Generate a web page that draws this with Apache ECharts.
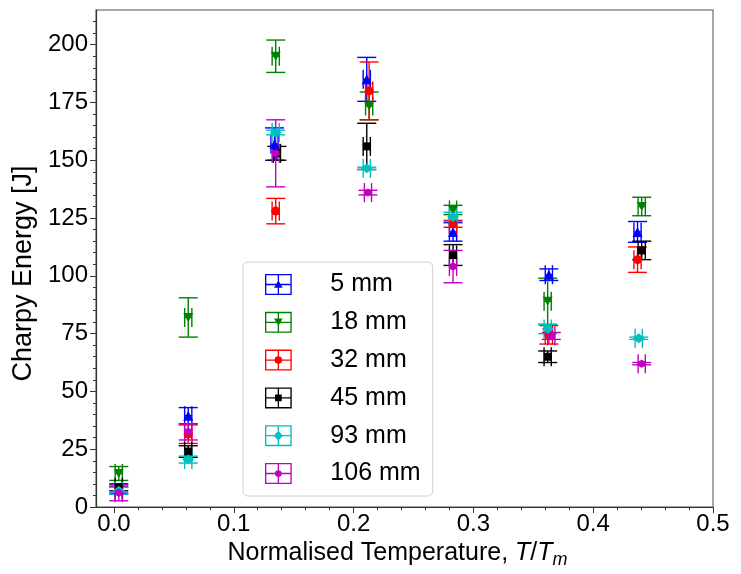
<!DOCTYPE html>
<html>
<head>
<meta charset="utf-8">
<script src="https://cdn.jsdelivr.net/npm/echarts@6/dist/echarts.min.js"></script>
<style>html,body{margin:0;padding:0;background:#fff;}#c{width:741px;height:574px;}</style>
</head>
<body>
<div id="c"></div>
<script>
// ---- data ----
const seriesNames = ['5 mm', '18 mm', '32 mm', '45 mm', '93 mm', '106 mm'];
const seriesColors = ['#0000ff', '#008000', '#ff0000', '#000000', '#00bfbf', '#bf00bf'];
const xTickValues = [0, 0.1, 0.2, 0.3, 0.4, 0.5];
const xMinorTicks = [0.02,0.04,0.06,0.08,0.12,0.14,0.16,0.18,0.22,0.24,0.26,0.28,0.32,0.34,0.36,0.38,0.42,0.44,0.46,0.48];
const yTickValues = [0, 25, 50, 75, 100, 125, 150, 175, 200];
const yMinorTicks = [5,10,15,20,30,35,40,45,55,60,65,70,80,85,90,95,105,110,115,120,130,135,140,145,155,160,165,170,180,185,190,195,205,210];

const temp5   = [0.004, 0.062, 0.134, 0.211, 0.283, 0.363, 0.437];
const energy5 = [7.5, 39.5, 157, 185, 119, 100.5, 119];
const err5    = [1.5, 3.5, 7, 9.5, 4, 2.5, 4.5];

const temp18   = [0.004, 0.062, 0.135, 0.213, 0.283, 0.362, 0.4405];
const energy18 = [14.5, 82, 195, 173.5, 128.5, 89, 130];
const err18    = [3, 8.5, 7, 6, 2, 10, 4];

const temp32   = [0.004, 0.062, 0.135, 0.213, 0.283, 0.363, 0.437];
const energy32 = [7, 31.5, 128, 180, 122.5, 74.5, 107];
const err32    = [1.5, 4, 5.5, 12.5, 1.5, 4, 5.5];

const temp45   = [0.004, 0.062, 0.136, 0.211, 0.283, 0.362, 0.4405];
const energy45 = [8.5, 24, 153, 156, 109, 65, 111];
const err45    = [1.5, 2.5, 3, 10, 4.5, 2.5, 4];

const temp93   = [0.004, 0.062, 0.135, 0.211, 0.283, 0.362, 0.438];
const energy93 = [7, 20.5, 162, 146.5, 125.5, 77, 73];
const err93    = [1.5, 1.5, 1, 0.5, 2, 2, 0.5];

const temp106   = [0.004, 0.062, 0.135, 0.212, 0.283, 0.365, 0.4405];
const energy106 = [6.2, 32.5, 153, 136, 104, 74, 62];
const err106    = [3.5, 3.5, 14.5, 1, 7, 1.5, 0.5];

const tempErr = [0.003, 0.003, 0.003, 0.003, 0.003, 0.003, 0.003];

const allTemps = [temp5, temp18, temp32, temp45, temp93, temp106];
const allEnergy = [energy5, energy18, energy32, energy45, energy93, energy106];
const allErr = [err5, err18, err32, err45, err93, err106];

// ---- styles ----
const FONT = 'Liberation Sans, Arial, sans-serif';
const triDown = 'path://M0,0 L10,0 L5,9 Z';
const hexagon = 'path://M5,0 L9.33,2.5 L9.33,7.5 L5,10 L0.67,7.5 L0.67,2.5 Z';
const symbols = ['triangle', triDown, 'circle', 'rect', 'diamond', hexagon];
const symbolSizes = [[10, 10], [10, 9], 9, 8, [12, 10], 8];

// legend icon: box-like errorbar cross + marker, 28x22 box
const frame = 'M0,0 L28,0 L28,1.4 L0,1.4 Z M0,20.6 L28,20.6 L28,22 L0,22 Z M0,0 L1.4,0 L1.4,22 L0,22 Z M26.6,0 L28,0 L28,22 L26.6,22 Z M13.3,0 L14.7,0 L14.7,22 L13.3,22 Z M0,10.3 L28,10.3 L28,11.7 L0,11.7 Z ';
const markerPaths = [
  'M14,6.5 L18.5,14.5 L9.5,14.5 Z',
  'M9.5,7 L18.5,7 L14,15 Z',
  'M14,7 A4,4 0 1 1 13.99,7 Z',
  'M10.5,7.5 L17.5,7.5 L17.5,14.5 L10.5,14.5 Z',
  'M14,6 L19,11 L14,16 L9,11 Z',
  'M14,7.5 A3.5,3.5 0 1 1 13.99,7.5 Z'
];

function errRender(params, api) {
  const x = api.value(0), y = api.value(1), ye = api.value(2), xe = api.value(3);
  const top = api.coord([x, y + ye]);
  const bot = api.coord([x, y - ye]);
  const l = api.coord([x - xe, y]);
  const r = api.coord([x + xe, y]);
  const cap = 9.5;
  const st = { stroke: api.visual('color'), lineWidth: 1.4 };
  return {
    type: 'group',
    children: [
      { type: 'line', shape: { x1: top[0], y1: top[1], x2: bot[0], y2: bot[1] }, style: st },
      { type: 'line', shape: { x1: top[0] - cap, y1: top[1], x2: top[0] + cap, y2: top[1] }, style: st },
      { type: 'line', shape: { x1: bot[0] - cap, y1: bot[1], x2: bot[0] + cap, y2: bot[1] }, style: st },
      { type: 'line', shape: { x1: l[0], y1: l[1], x2: r[0], y2: r[1] }, style: st },
      { type: 'line', shape: { x1: l[0], y1: l[1] - cap, x2: l[0], y2: l[1] + cap }, style: st },
      { type: 'line', shape: { x1: r[0], y1: r[1] - cap, x2: r[0], y2: r[1] + cap }, style: st }
    ]
  };
}

const series = [];
seriesNames.forEach((name, i) => {
  const errData = allTemps[i].map((t, k) => [t, allEnergy[i][k], allErr[i][k], tempErr[k]]);
  const ptData = allTemps[i].map((t, k) => [t, allEnergy[i][k]]);
  series.push({
    type: 'custom', name: name + ' err', xAxisIndex: 0, yAxisIndex: 0,
    renderItem: errRender, data: errData, itemStyle: { color: seriesColors[i] },
    encode: { x: 0, y: 1 }, silent: true, clip: false
  });
  series.push({
    type: 'scatter', name: name, xAxisIndex: 0, yAxisIndex: 0,
    data: ptData, symbol: symbols[i], symbolSize: symbolSizes[i],
    itemStyle: { color: seriesColors[i], opacity: 1 }, silent: true
  });
});

const chart = echarts.init(document.getElementById('c'), null, { renderer: 'canvas' });
const axisFont = { fontFamily: FONT, fontSize: 24, color: '#000' };
chart.setOption({
  animation: false,
  backgroundColor: '#fff',
  grid: { left: 96, right: 28, top: 10, bottom: 67, show: true, borderColor: '#8a8a8a', borderWidth: 1.5 },
  legend: {
    data: seriesNames.map((n, i) => ({ name: n, icon: 'path://' + frame + markerPaths[i] })),
    orient: 'vertical', left: 243, top: 262,
    itemWidth: 28, itemHeight: 21, itemGap: 12.8,
    padding: [10, 12, 10, 22],
    backgroundColor: '#fff', borderColor: '#d0d0d0', borderWidth: 1, borderRadius: 5,
    textStyle: { fontFamily: FONT, fontSize: 25, color: '#000', padding: [0, 0, 0, 33] },
    selectedMode: false
  },
  xAxis: [
    {
      type: 'value', min: -0.015, max: 0.5, position: 'bottom',
      axisLine: { show: true, onZero: false, lineStyle: { color: '#333', width: 1.2 } },
      axisTick: { show: true, customValues: xTickValues, length: 6, inside: false, lineStyle: { color: '#333' } },
      axisLabel: Object.assign({ customValues: xTickValues, formatter: v => v.toFixed(1), margin: 5 }, axisFont),
      splitLine: { show: false },
      name: 'Normalised Temperature, {i|T}/{i|T}{s|m}',
      nameLocation: 'middle', nameGap: 24,
      nameTextStyle: {
        fontFamily: FONT, fontSize: 25, color: '#000', padding: [0, 14, 0, 0],
        rich: {
          i: { fontFamily: FONT, fontSize: 25, fontStyle: 'italic', color: '#000' },
          s: { fontFamily: FONT, fontSize: 18, fontStyle: 'italic', color: '#000', padding: [13, 0, 0, 0] }
        }
      }
    },
    {
      type: 'value', min: -0.015, max: 0.5, position: 'bottom', gridIndex: 0,
      axisLine: { show: false, onZero: false },
      axisTick: { show: true, customValues: xMinorTicks, length: 3, inside: false, lineStyle: { color: '#333' } },
      axisLabel: { show: false }, splitLine: { show: false }
    }
  ],
  yAxis: [
    {
      type: 'value', min: 0, max: 215, position: 'left',
      axisLine: { show: true, onZero: false, lineStyle: { color: '#333', width: 1.2 } },
      axisTick: { show: true, customValues: yTickValues, length: 6, inside: false, lineStyle: { color: '#333' } },
      axisLabel: Object.assign({ customValues: yTickValues, margin: 8 }, axisFont),
      splitLine: { show: false },
      name: 'Charpy Energy [J]', nameLocation: 'middle', nameGap: 55,
      nameTextStyle: { fontFamily: FONT, fontSize: 27, color: '#000', padding: [0, 30, 0, 0] }
    },
    {
      type: 'value', min: 0, max: 215, position: 'left', gridIndex: 0,
      axisLine: { show: false, onZero: false },
      axisTick: { show: true, customValues: yMinorTicks, length: 3, inside: false, lineStyle: { color: '#333' } },
      axisLabel: { show: false }, splitLine: { show: false }
    }
  ],
  series: series
});
</script>
</body>
</html>
